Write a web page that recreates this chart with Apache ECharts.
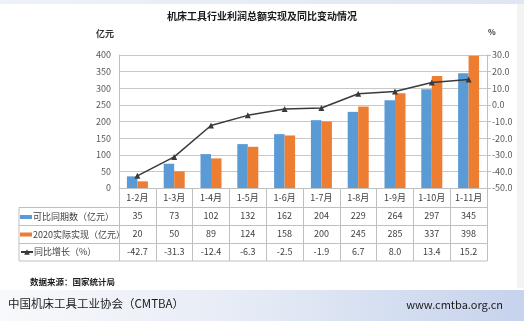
<!DOCTYPE html>
<html><head><meta charset="utf-8">
<script src="https://cdn.jsdelivr.net/npm/echarts@6/dist/echarts.min.js"></script>
<style>html,body{margin:0;padding:0;background:#fff}#c{width:524px;height:330px}</style>
</head><body><div id="c"></div>
<script>
const categories = ['1-2月','1-3月','1-4月','1-5月','1-6月','1-7月','1-8月','1-9月','1-10月','1-11月'];
const comparable = [35, 73, 102, 132, 162, 204, 229, 264, 297, 345];
const actual2020 = [20, 50, 89, 124, 158, 200, 245, 285, 337, 398];
const growth = [-42.7, -31.3, -12.4, -6.3, -2.5, -1.9, 6.7, 8.0, 13.4, 15.2];
const seriesNames = ['可比同期数（亿元）', '2020实际实现（亿元）', '同比增长（%）'];
const leftTicks = {min: 0, max: 400, interval: 50};
const rightTicks = {min: -50, max: 30, interval: 10};

const FONT = '"Noto Sans CJK SC", "Noto Sans", sans-serif';
const chart = echarts.init(document.getElementById('c'));
const lineColor = '#bfbfbf';
const tableLines = [207.5, 225.5, 243.5, 261];
const graphics = [
  {type:'rect', shape:{x:0,y:0,width:524,height:4}, style:{fill:new echarts.graphic.LinearGradient(0,0,1,0,[{offset:0,color:'#eef2f8'},{offset:1,color:'#dfe6f2'}])}, silent:true},
  {type:'rect', shape:{x:517,y:4,width:7,height:284}, style:{fill:'#f3f3f3'}, silent:true},
  {type:'rect', shape:{x:0,y:290,width:524,height:31}, style:{fill:new echarts.graphic.LinearGradient(0,0,1,0,[{offset:0,color:'#f8f9fc'},{offset:0.5,color:'#e4eaf5'},{offset:1,color:'#c6d3ed'}])}, silent:true},
  {type:'text', left:96, top:29, style:{text:'亿元', font:'bold 9px '+FONT, fill:'#333'}},
  {type:'text', left:488, top:28, style:{text:'%', font:'bold 8px '+FONT, fill:'#333'}},
  {type:'text', left:30, top:278, style:{text:'数据来源：国家统计局', font:'bold 8.5px '+FONT, fill:'#222'}},
  {type:'text', left:8, top:298, style:{text:'中国机床工具工业协会（CMTBA）', font:'11.5px '+FONT, fill:'#1a1a1a'}},
  {type:'text', right:21, top:299, style:{text:'www.cmtba.org.cn', font:'11px '+FONT, fill:'#1a1a1a'}},
  {type:'line', shape:{x1:19,y1:tableLines[0],x2:19,y2:tableLines[3]}, style:{stroke:lineColor,lineWidth:1}, silent:true}
];
tableLines.forEach(y => graphics.push({type:'line', shape:{x1:19,y1:y,x2:487,y2:y}, style:{stroke:lineColor,lineWidth:1}, silent:true}));

chart.setOption({
  animation: false,
  textStyle: {fontFamily: FONT},
  title: {text:'机床工具行业利润总额实现及同比变动情况', left:'center', top:6,
    textStyle:{fontSize:10, fontWeight:'bold', color:'#1a1a1a', fontFamily: FONT}},
  grid: {left:119, right:37, top:55, bottom:142},
  legend: [
    {data:[seriesNames[0], seriesNames[1]], orient:'vertical', left:20, top:210, itemWidth:12, itemHeight:4, itemGap:3.5,
      icon:'rect', textStyle:{fontSize:9, color:'#404040', lineHeight:14, padding:[0,0,0,-4]}, selectedMode:false, padding:0},
    {data:[seriesNames[2]], orient:'vertical', left:20, top:245, itemWidth:12, itemHeight:7, itemGap:3.5,
      textStyle:{fontSize:9, color:'#404040', lineHeight:14, padding:[0,0,0,-4]}, selectedMode:false, padding:0}
  ],
  xAxis: {
    type:'category', data:categories,
    axisLine:{lineStyle:{color:lineColor}},
    axisTick:{show:true, length:73, lineStyle:{color:lineColor}},
    axisLabel:{interval:0, margin:1, color:'#404040', fontSize:9, lineHeight:18,
      formatter:(v, i) => [v, comparable[i], actual2020[i], growth[i].toFixed(1)].join('\n')}
  },
  yAxis: [
    {type:'value', min:leftTicks.min, max:leftTicks.max, interval:leftTicks.interval,
      axisLine:{show:true, lineStyle:{color:lineColor}}, axisTick:{show:false},
      axisLabel:{color:'#595959', fontSize:9, margin:8},
      splitLine:{lineStyle:{color:'#c8c8c8'}}},
    {type:'value', min:rightTicks.min, max:rightTicks.max, interval:rightTicks.interval, position:'right',
      axisLine:{show:true, lineStyle:{color:lineColor}}, axisTick:{show:true, length:4, lineStyle:{color:lineColor}},
      axisLabel:{color:'#595959', fontSize:9, margin:5, formatter:v => v.toFixed(1)},
      splitLine:{show:false}}
  ],
  series: [
    {name:seriesNames[0], type:'bar', data:comparable, itemStyle:{color:'#5b9bd5'}, barWidth:10.5, barGap:'0%'},
    {name:seriesNames[1], type:'bar', data:actual2020, itemStyle:{color:'#ed7d31'}, barWidth:10.5, barGap:'0%'},
    {name:seriesNames[2], type:'line', yAxisIndex:1, data:growth, symbol:'triangle', symbolSize:6,
      itemStyle:{color:'#3a3a3a'}, lineStyle:{color:'#3a3a3a', width:1.5}}
  ],
  graphic: graphics
});
</script></body></html>
